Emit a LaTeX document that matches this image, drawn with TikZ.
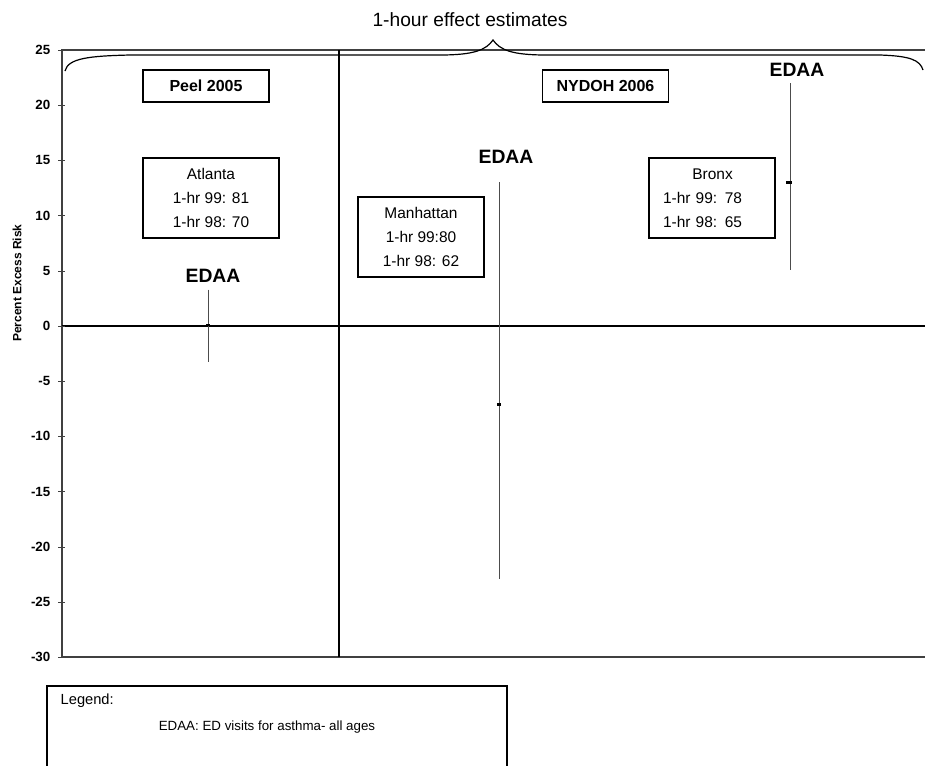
\documentclass[tikz,border=0pt]{standalone}
\usepackage{fontspec}
\setmainfont{Liberation Sans}
\tikzset{
    labelbox/.style={draw, line width=1pt, inner sep=0pt, minimum width=94.5pt, minimum height=60pt,
        align=center, font=\fontsize{11.6}{18}\selectfont},
    studybox/.style={draw, line width=1pt, inner sep=0pt, minimum width=94.5pt, minimum height=24pt,
        font=\fontsize{12}{13}\selectfont\bfseries},
    edaa/.style={font=\fontsize{14.5}{16}\selectfont\bfseries},
    cibar/.style={gray!60!black, line width=0.6pt},
    estdot/.style={fill=black, inner sep=0pt, minimum width=3pt, minimum height=2pt}
}
\begin{document}
\begin{tikzpicture}[x=0.75pt, y=-0.75pt]
        \useasboundingbox (0,0) rectangle (925,765);

        % frame of the chart
        \coordinate (TL) at (62, 50);
        \coordinate (BL) at (62, 657);
        \coordinate (TR) at (925, 50);
        \coordinate (BR) at (925, 657);
        \coordinate (ZL) at (62, 326);
        \coordinate (ZR) at (925, 326);
        \coordinate (DT) at (339, 50);
        \coordinate (DB) at (339, 657);

        \draw[gray!50!black, line width=0.8pt] (TR) -- (TL) -- (BL) -- (BR);
        \draw[line width=1.1pt] (ZL) -- (ZR);
        \draw[line width=1.1pt] (DT) -- (DB);

        \foreach \v in {25,20,...,-30} {
            \draw[gray!50!black] (58, {326-11.04*\v}) -- (65, {326-11.04*\v});
            \node[anchor=east, font=\fontsize{10}{12}\selectfont\bfseries] (tick\v) at (55, {326-11.04*\v}) {\v};
        }
        \node[rotate=90, font=\fontsize{9}{11}\selectfont\bfseries] (ylabel) at (17, 283) {Percent Excess Risk};

        % brace and title
        \coordinate (braceL) at (65, 71);
        \coordinate (braceTip) at (493, 40);
        \coordinate (braceR) at (923, 70);
        \draw[line width=0.9pt] (braceL) .. controls (68, 58) and (90, 56) .. (130, 55) -- (440, 55)
            .. controls (474, 55) and (486, 50) .. (braceTip)
            .. controls (500, 50) and (512, 55) .. (546, 55) -- (880, 55)
            .. controls (910, 56) and (920, 60) .. (braceR);
        \node[font=\fontsize{14.4}{16}\selectfont] (title) at (470, 20) {1-hour effect estimates};

        % study and city boxes
        \node[studybox] (peel) at (206, 86) {Peel 2005};
        \node[studybox] (nydoh) at (605.5, 86) {NYDOH 2006};
        \node[labelbox, minimum width=102pt] (atlanta) at (211, 198) {Atlanta\\1-hr 99: 81\\1-hr 98: 70};
        \node[labelbox] (manhattan) at (421, 237) {Manhattan\\1-hr 99:80\\1-hr 98: 62};
        \node[labelbox, align=left, text width=73.5pt] (bronx) at (712, 198) {\hspace*{22pt}Bronx\\1-hr 99: 78\\1-hr 98: 65};

        % estimates with intervals
        \coordinate (atlHi) at (208, {326-11.04*3.3});
        \coordinate (atlLo) at (208, {326+11.04*3.3});
        \coordinate (manHi) at (499, {326-11.04*13});
        \coordinate (manLo) at (499, {326+11.04*22.9});
        \coordinate (brxHi) at (790, {326-11.04*22});
        \coordinate (brxLo) at (790, {326-11.04*5.1});

        \draw[cibar] (atlHi) -- (atlLo);
        \draw[cibar] (manHi) -- (manLo);
        \draw[cibar] (brxHi) -- (brxLo);

        \node[estdot] (atlEst) at (208, {326-11.04*0.1}) {};
        \node[estdot] (manEst) at (499, {326+11.04*7.1}) {};
        \node[estdot, minimum width=4pt] (brxEst) at (789, {326-11.04*13}) {};

        \node[edaa] (atlName) at (213, 276) {EDAA};
        \node[edaa] (manName) at (506, 157) {EDAA};
        \node[edaa] (brxName) at (797, 70) {EDAA};

        % legend
        \draw[line width=1pt] (47, 780) -- (47, 686) -- (507, 686) -- (507, 780);
        \node[anchor=west, font=\fontsize{11}{13}\selectfont] (legend) at (56, 701) {Legend:};
        \node[font=\fontsize{10}{12}\selectfont] (legendText) at (267, 727) {EDAA: ED visits for asthma- all ages};

    \end{tikzpicture}
\end{document}
